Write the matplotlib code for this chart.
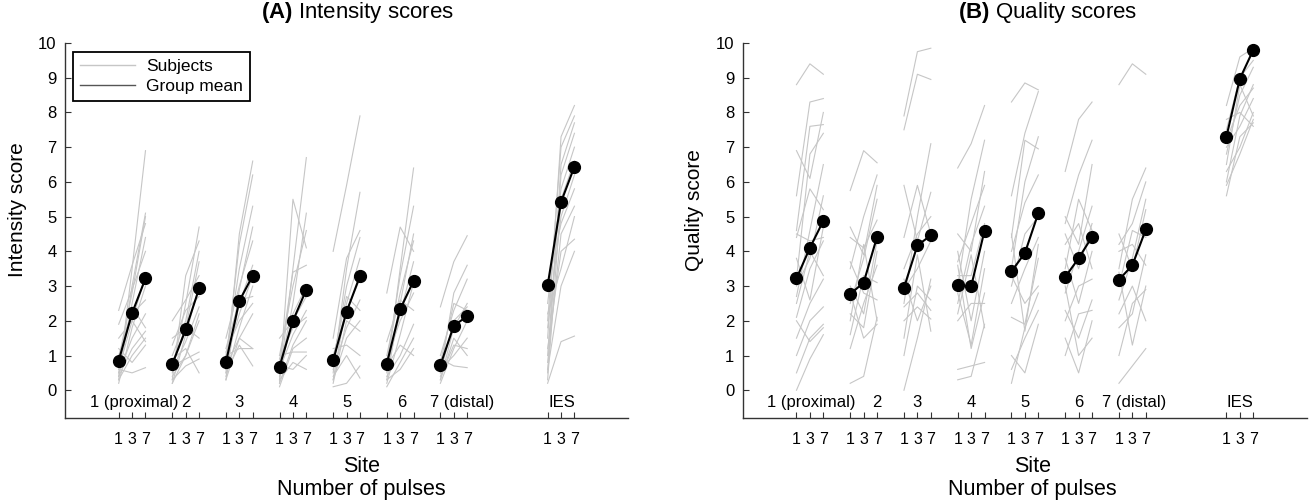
import numpy as np
import matplotlib.pyplot as plt
from matplotlib.lines import Line2D

plt.rcParams['font.family'] = ['Liberation Sans', 'DejaVu Sans']
plt.rcParams['mathtext.fontset'] = 'custom'
plt.rcParams['mathtext.rm'] = 'Liberation Sans'
plt.rcParams['mathtext.bf'] = 'Liberation Sans:bold'

# sites and number of pulses
sites = ['1 (proximal)', '2', '3', '4', '5', '6', '7 (distal)', 'IES']
pulses = ['1', '3', '7']

# group means (1, 3, 7 pulses) per site
int_mean = [[0.85, 2.22, 3.22], [0.75, 1.75, 2.93], [0.80, 2.57, 3.30],
            [0.68, 2.00, 2.90], [0.86, 2.26, 3.29], [0.76, 2.33, 3.15],
            [0.72, 1.86, 2.13], [3.02, 5.42, 6.44]]
qual_mean = [[3.22, 4.10, 4.88], [2.77, 3.10, 4.42], [2.95, 4.17, 4.46],
             [3.02, 2.99, 4.60], [3.42, 3.95, 5.10], [3.26, 3.80, 4.42],
             [3.18, 3.60, 4.63], [7.30, 8.97, 9.80]]

# individual subjects, intensity
int_s1 = [[0.3, 3.5, 6.9], [0.5, 3.0, 5.1], [0.9, 2.8, 5.0], [2.3, 3.6, 4.8],
          [0.4, 2.5, 4.4], [1.9, 2.9, 4.0], [0.6, 2.0, 3.3], [0.2, 1.8, 3.0],
          [1.0, 2.2, 2.6], [0.5, 1.5, 2.2], [0.8, 2.4, 1.8], [0.3, 1.0, 1.5],
          [1.2, 0.8, 1.3], [0.6, 0.5, 0.65], [0.4, 1.2, 1.7], [1.5, 2.0, 1.4]]
int_s2 = [[0.5, 2.5, 4.7], [0.3, 3.3, 4.3], [1.0, 2.0, 4.0], [0.8, 1.8, 3.7],
          [2.0, 2.6, 3.3], [0.2, 1.6, 3.0], [1.3, 2.3, 2.7], [0.6, 1.4, 2.4],
          [0.4, 1.0, 2.0], [1.5, 1.8, 1.5], [0.7, 0.9, 1.1], [0.3, 0.7, 0.9],
          [0.9, 1.2, 0.5], [0.2, 1.0, 2.2]]
int_s3 = [[0.5, 4.5, 6.6], [0.8, 4.2, 6.2], [1.0, 3.5, 5.3], [0.3, 2.9, 4.7],
          [1.5, 3.0, 4.3], [0.6, 2.5, 3.6], [0.9, 2.2, 3.3], [0.4, 1.8, 3.0],
          [1.2, 2.6, 2.7], [0.7, 1.5, 2.2], [0.3, 1.5, 1.2], [1.0, 1.2, 1.2],
          [0.5, 1.3, 0.7], [1.1, 2.0, 2.5]]
int_s4 = [[0.3, 3.5, 6.7], [0.2, 5.5, 4.1], [0.5, 2.5, 5.1], [1.0, 3.0, 4.6],
          [0.8, 3.4, 3.6], [0.4, 2.2, 3.0], [1.5, 2.0, 2.7], [0.6, 1.6, 2.3],
          [0.2, 1.3, 2.0], [1.0, 1.1, 1.1], [0.7, 0.6, 1.0], [0.3, 0.8, 0.6],
          [0.1, 1.2, 1.5], [0.9, 1.8, 2.1]]
int_s5 = [[4.0, 5.9, 7.9], [0.5, 3.5, 5.7], [1.5, 3.8, 4.6], [0.8, 3.0, 4.4],
          [0.3, 2.5, 3.8], [1.0, 2.3, 3.2], [0.6, 1.8, 2.6], [0.2, 2.0, 1.7],
          [1.2, 1.3, 1.0], [0.1, 0.2, 0.7], [0.4, 1.0, 0.35], [0.9, 2.7, 2.3],
          [0.3, 1.5, 2.0]]
int_s6 = [[0.5, 3.5, 6.4], [2.8, 4.7, 4.0], [0.8, 3.3, 5.3], [0.3, 2.5, 4.5],
          [1.0, 2.8, 4.3], [0.6, 2.2, 3.7], [0.2, 1.6, 3.1], [1.4, 2.6, 2.3],
          [0.4, 1.0, 1.9], [0.1, 0.8, 1.5], [0.7, 1.3, 1.0], [0.3, 0.6, 1.2],
          [0.9, 2.0, 2.8]]
int_s7 = [[2.4, 3.7, 4.45], [0.5, 2.8, 3.6], [1.0, 2.3, 3.2], [0.3, 1.8, 2.5],
          [0.8, 2.5, 2.3], [0.2, 1.2, 2.0], [0.6, 1.0, 1.5], [0.4, 1.3, 1.2],
          [0.9, 0.7, 0.65], [0.3, 1.5, 1.0], [0.5, 2.0, 2.4]]
int_ies = [[1.5, 7.3, 8.2], [2.0, 7.0, 7.9], [0.5, 6.5, 7.7], [1.0, 6.2, 7.4],
           [2.5, 5.8, 7.0], [0.3, 5.5, 6.6], [1.8, 5.0, 6.2], [3.0, 4.8, 5.8],
           [0.8, 4.5, 5.3], [1.2, 4.0, 4.35], [0.2, 1.4, 1.56], [2.2, 3.5, 5.0],
           [0.6, 3.0, 4.0]]

# individual subjects, quality
qual_s1 = [[8.8, 9.4, 9.1], [5.6, 8.3, 8.4], [6.9, 6.1, 8.0], [4.6, 7.6, 7.65],
           [3.2, 6.8, 7.4], [4.4, 5.8, 5.2], [2.7, 4.6, 6.5], [4.5, 4.3, 4.4],
           [3.0, 3.8, 5.6], [2.1, 3.5, 4.3], [1.5, 2.5, 3.2], [2.0, 1.4, 1.8],
           [1.0, 2.0, 2.4], [0.5, 1.5, 1.9], [0.0, 0.9, 1.6], [2.5, 4.0, 3.3],
           [3.8, 2.6, 4.7]]
qual_s2 = [[5.75, 6.9, 6.55], [3.5, 5.0, 6.2], [4.7, 3.9, 5.9], [4.4, 4.1, 4.9],
           [2.5, 3.8, 5.5], [3.0, 2.2, 4.3], [1.2, 2.5, 3.6], [2.0, 4.2, 2.0],
           [2.8, 1.5, 1.9], [0.2, 0.4, 2.1], [1.6, 3.3, 3.1], [3.7, 2.8, 2.6],
           [2.2, 1.8, 4.0]]
qual_s3 = [[7.9, 9.75, 9.85], [7.5, 9.1, 8.95], [2.5, 5.0, 7.1], [5.9, 4.3, 5.7],
           [4.4, 5.9, 4.5], [3.5, 4.5, 5.0], [2.9, 3.5, 4.3], [2.4, 2.8, 2.3],
           [1.0, 3.0, 2.6], [2.0, 2.4, 2.05], [0.0, 1.5, 3.2], [1.5, 3.9, 1.7],
           [3.2, 2.0, 3.0]]
qual_s4 = [[6.4, 7.1, 8.2], [3.0, 5.5, 7.2], [4.5, 4.0, 6.3], [3.7, 4.8, 5.9],
           [2.5, 4.2, 5.3], [3.3, 3.3, 4.8], [4.0, 2.0, 4.0], [2.8, 1.3, 3.5],
           [2.0, 2.5, 2.5], [0.6, 0.7, 0.8], [0.3, 0.4, 1.9], [3.6, 1.2, 2.8],
           [2.2, 3.9, 1.8]]
qual_s5 = [[8.3, 8.85, 8.65], [5.6, 7.4, 8.6], [4.4, 7.2, 6.95], [3.5, 6.0, 7.3],
           [4.0, 5.4, 6.2], [3.0, 4.5, 5.0], [2.5, 3.5, 4.4], [3.3, 2.5, 3.0],
           [0.6, 1.5, 2.3], [1.0, 0.5, 1.9], [0.2, 1.8, 2.8], [2.1, 1.9, 3.8],
           [4.5, 1.7, 4.2]]
qual_s6 = [[6.3, 7.8, 8.3], [4.8, 6.2, 7.2], [5.0, 4.2, 6.5], [3.5, 5.5, 4.6],
           [4.5, 3.5, 4.8], [2.8, 4.0, 5.3], [3.8, 2.5, 4.0], [2.0, 3.0, 3.2],
           [2.3, 1.5, 2.6], [1.5, 0.5, 2.0], [3.0, 1.0, 1.5], [1.0, 2.2, 2.3],
           [4.2, 4.8, 3.5]]
qual_s7 = [[8.8, 9.4, 9.1], [3.5, 5.5, 6.4], [4.2, 4.8, 6.0], [4.5, 3.5, 5.2],
           [3.0, 4.6, 4.4], [2.6, 3.8, 5.5], [1.8, 2.2, 3.9], [2.2, 3.0, 2.0],
           [3.4, 1.3, 3.0], [0.2, 0.7, 1.2], [1.0, 2.5, 2.9], [4.0, 4.2, 3.6]]
qual_ies = [[8.2, 9.6, 9.85], [7.5, 9.0, 9.5], [6.8, 8.5, 9.3], [7.2, 8.2, 8.7],
            [6.5, 8.8, 7.9], [6.0, 7.9, 8.8], [7.0, 7.6, 8.4], [5.6, 7.3, 7.7],
            [6.3, 7.0, 8.0], [7.8, 8.0, 7.6], [5.9, 6.8, 7.8]]

int_subjects = [int_s1, int_s2, int_s3, int_s4, int_s5, int_s6, int_s7, int_ies]
qual_subjects = [qual_s1, qual_s2, qual_s3, qual_s4, qual_s5, qual_s6, qual_s7, qual_ies]

# x position of each site group (IES is set apart)
base = [0, 4, 8, 12, 16, 20, 24, 32]

fig = plt.figure(figsize=(13.09, 5.04), dpi=100)
ax1 = fig.add_axes([0.0497, 0.1706, 0.4301, 0.7441])
ax2 = fig.add_axes([0.5674, 0.1706, 0.4311, 0.7441])

panels = [
    (ax1, int_subjects, int_mean, r'$\mathbf{(A)}$ Intensity scores', 'Intensity score',
     0.52, 0.527, [1.15, 1.0, 1.0, 1.0, 1.0, 1.1, 1.6, 1.05]),
    (ax2, qual_subjects, qual_mean, r'$\mathbf{(B)}$ Quality scores', 'Quality score',
     0.541, 0.513, [1.1, 1.95, 1.0, 1.0, 1.0, 1.0, 1.15, 1.0]),
]

for ax, subj, means, title, ylab, tx, lx, lab_off in panels:
    for g in range(len(sites)):
        xs = np.array([0, 1, 2]) + base[g]
        for s in subj[g]:
            ax.plot(xs, s, color='#c6c6c6', lw=0.8, zorder=1)
        ax.plot(xs, means[g], color='black', lw=1.5, marker='o', ms=8.5,
                zorder=3)
        ax.text(base[g] + lab_off[g], -0.36, sites[g], ha='center', va='center',
                fontsize=12)

    ticks = []
    labels = []
    for b in base:
        ticks += [b, b + 1, b + 2]
        labels += pulses
    ax.set_xticks(ticks)
    ax.set_xticklabels(labels, fontsize=11.5)
    ax.set_yticks(range(0, 11))
    ax.set_yticklabels([str(v) for v in range(0, 11)], fontsize=12)
    ax.set_xlim(-4, 38)
    ax.set_ylim(-0.8, 10)
    ax.tick_params(axis='x', direction='in', length=4, width=0.8, pad=10,
                   color='#333333')
    ax.tick_params(axis='y', direction='in', length=4, width=0.8, pad=6,
                   color='#333333')
    for side in ['top', 'right']:
        ax.spines[side].set_visible(False)
    for side in ['left', 'bottom']:
        ax.spines[side].set_color('#333333')
        ax.spines[side].set_linewidth(1.0)

    ax.text(tx, 1.08, title, transform=ax.transAxes, ha='center', va='center',
            fontsize=16)
    ax.text(lx, -0.16, 'Site\nNumber of pulses', transform=ax.transAxes,
            ha='center', va='center', fontsize=15.5, linespacing=1.1)
    ax.text(-0.085, 0.555, ylab, transform=ax.transAxes, rotation=90,
            ha='center', va='center', fontsize=15)

handles = [Line2D([], [], color='#c6c6c6', lw=1.0),
           Line2D([], [], color='#555555', lw=1.0)]
leg = ax1.legend(handles, ['Subjects', 'Group mean'], loc='upper left',
                 bbox_to_anchor=(0.014, 0.976), fontsize=12.5, handlelength=3.2,
                 handletextpad=0.6, labelspacing=0.25, borderpad=0.4,
                 fancybox=False, framealpha=1, borderaxespad=0)
leg.get_frame().set_edgecolor('black')
leg.get_frame().set_linewidth(1.3)

fig.savefig('out.png', dpi=100)
